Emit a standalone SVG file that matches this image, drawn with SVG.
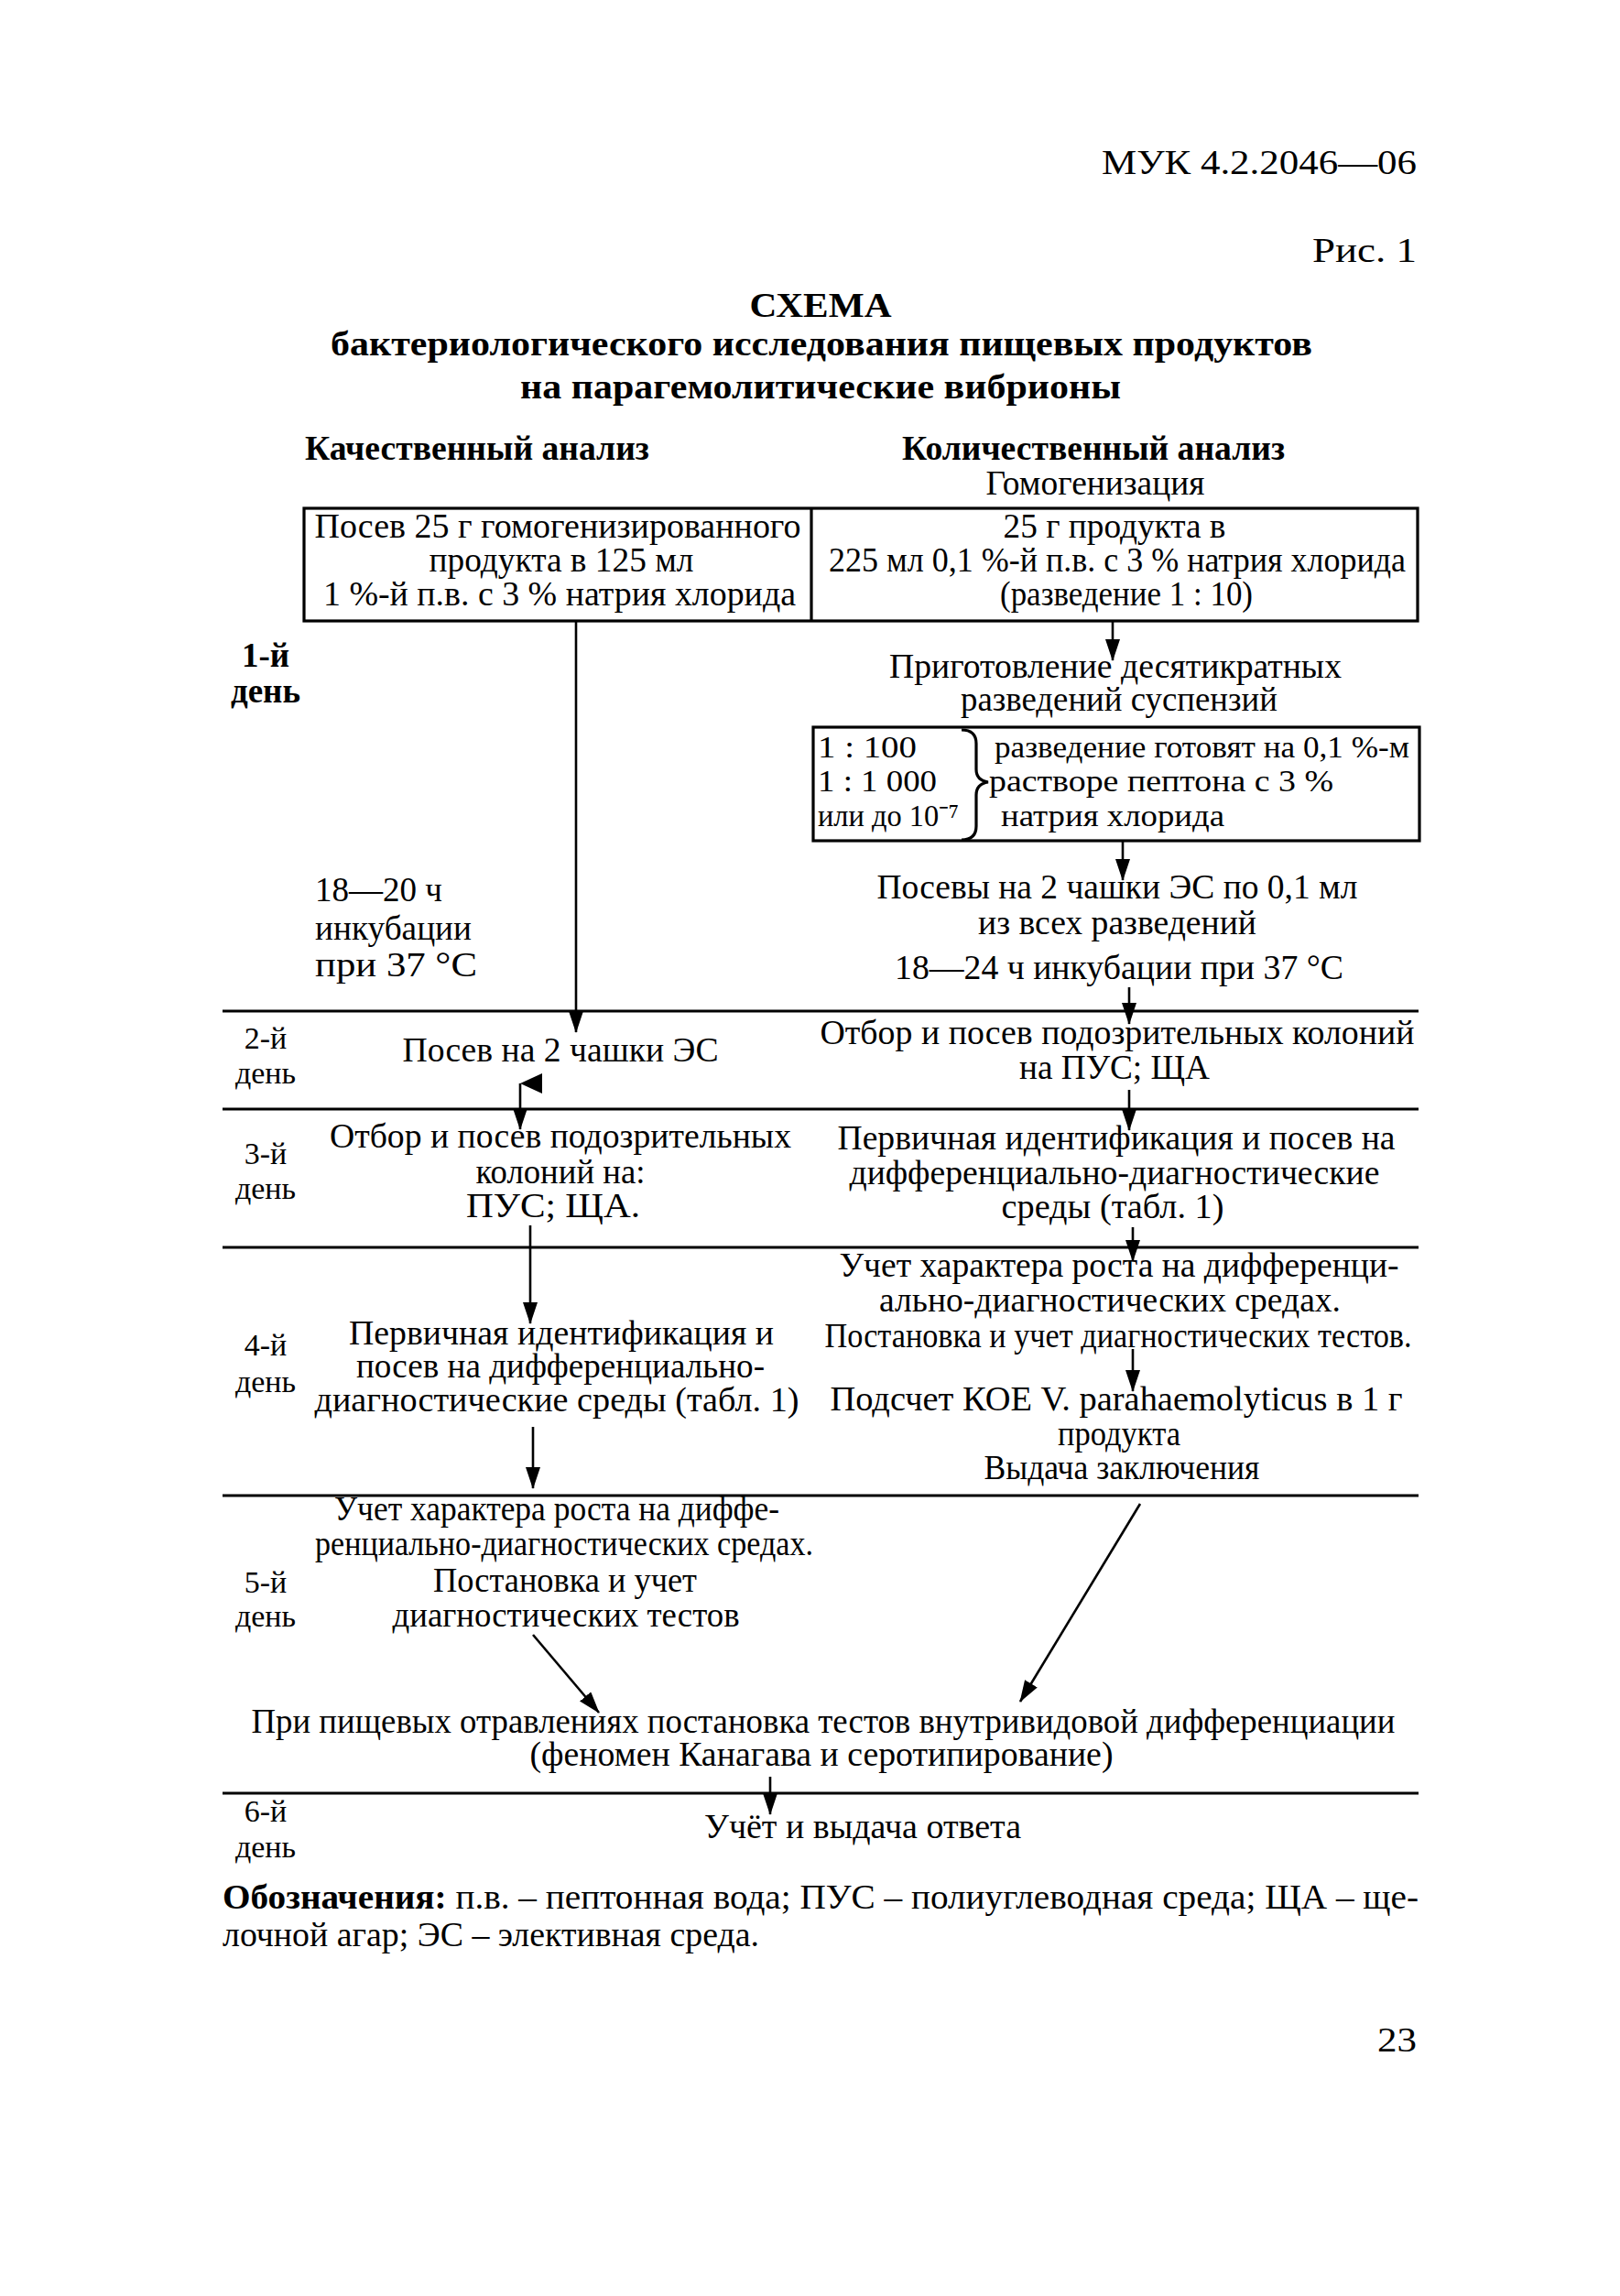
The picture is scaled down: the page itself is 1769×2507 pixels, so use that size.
<svg xmlns="http://www.w3.org/2000/svg" width="1769" height="2507" viewBox="0 0 1769 2507">
<style>
text{font-family:"Liberation Serif","Times New Roman",serif;fill:#000;font-size:37px}
.b{font-weight:bold}
.m{text-anchor:middle}
.e{text-anchor:end}
.d{font-size:34px}
.s{font-size:34px}
.ln{stroke:#000;stroke-width:3.2;fill:none}
.ar{stroke:#000;stroke-width:2.6;fill:none;marker-end:url(#ah)}
</style>
<defs>
<marker id="ah" markerWidth="24" markerHeight="16" refX="23" refY="8" orient="auto" markerUnits="userSpaceOnUse">
<path d="M0,0 L24,8 L0,16 Z" fill="#000"/>
</marker>
</defs>
<rect width="1769" height="2507" fill="#fff"/>

<g id="header">
<text x="1547" y="190" class="e" font-size="54" textLength="344" lengthAdjust="spacingAndGlyphs">МУК 4.2.2046—06</text>
<text x="1547" y="286" class="e" font-size="52" textLength="114" lengthAdjust="spacingAndGlyphs">Рис. 1</text>
<text x="896" y="346" class="m b" font-size="52" textLength="155" lengthAdjust="spacingAndGlyphs">СХЕМА</text>
<text x="897" y="388" class="m b" font-size="44" textLength="1072" lengthAdjust="spacingAndGlyphs">бактериологического исследования пищевых продуктов</text>
<text x="896" y="435" class="m b" font-size="44" textLength="656" lengthAdjust="spacingAndGlyphs">на парагемолитические вибрионы</text>
<text x="333" y="502" class="b" font-size="42" textLength="376" lengthAdjust="spacingAndGlyphs">Качественный анализ</text>
<text x="985" y="502" class="b" font-size="42" textLength="418" lengthAdjust="spacingAndGlyphs">Количественный анализ</text>
<text x="1196" y="540" class="m" textLength="239" lengthAdjust="spacingAndGlyphs">Гомогенизация</text>
</g>

<g id="days">
<text x="290" y="728" class="m b" font-size="33">1-й</text>
<text x="290" y="767" class="m b" font-size="33">день</text>
<text x="290" y="1145" class="m d">2-й</text>
<text x="290" y="1183" class="m d">день</text>
<text x="290" y="1271" class="m d">3-й</text>
<text x="290" y="1309" class="m d">день</text>
<text x="290" y="1480" class="m d">4-й</text>
<text x="290" y="1520" class="m d">день</text>
<text x="290" y="1739" class="m d">5-й</text>
<text x="290" y="1776" class="m d">день</text>
<text x="290" y="1989" class="m d">6-й</text>
<text x="290" y="2028" class="m d">день</text>
</g>

<g id="separators">
<line class="ln" x1="243" y1="1104" x2="1549" y2="1104"/>
<line class="ln" x1="243" y1="1211" x2="1549" y2="1211"/>
<line class="ln" x1="243" y1="1362" x2="1549" y2="1362"/>
<line class="ln" x1="243" y1="1633" x2="1549" y2="1633"/>
<line class="ln" x1="243" y1="1958" x2="1549" y2="1958"/>
</g>

<g id="n-start">
<rect class="ln" x="332" y="555" width="1216" height="123"/>
<line class="ln" x1="886" y1="555" x2="886" y2="678"/>
<text x="609" y="587" class="m" textLength="531" lengthAdjust="spacingAndGlyphs">Посев 25 г гомогенизированного</text>
<text x="613" y="624" class="m" textLength="289" lengthAdjust="spacingAndGlyphs">продукта в 125 мл</text>
<text x="611" y="661" class="m" textLength="516" lengthAdjust="spacingAndGlyphs">1 %-й п.в. с 3 % натрия хлорида</text>
<text x="1217" y="587" class="m" textLength="243" lengthAdjust="spacingAndGlyphs">25 г продукта в</text>
<text x="1220" y="624" class="m" textLength="630" lengthAdjust="spacingAndGlyphs">225 мл 0,1 %-й п.в. с 3 % натрия хлорида</text>
<text x="1230" y="661" class="m" textLength="276" lengthAdjust="spacingAndGlyphs">(разведение 1 : 10)</text>
</g>

<g id="n-prep">
<text x="1218" y="740" class="m" textLength="494" lengthAdjust="spacingAndGlyphs">Приготовление десятикратных</text>
<text x="1222" y="776" class="m" textLength="346" lengthAdjust="spacingAndGlyphs">разведений суспензий</text>
</g>

<g id="n-dilutions">
<rect class="ln" x="888" y="794" width="662" height="124"/>
<text x="893" y="827" class="s" textLength="108" lengthAdjust="spacingAndGlyphs">1 : 100</text>
<text x="893" y="864" class="s" textLength="130" lengthAdjust="spacingAndGlyphs">1 : 1 000</text>
<text x="893" y="902" class="s" textLength="154" lengthAdjust="spacingAndGlyphs">или до 10⁻⁷</text>
<path class="ln" stroke-width="2.6" d="M1050,797 Q1066,797 1066,812 L1066,840 Q1066,852 1079,854 Q1066,856 1066,868 L1066,902 Q1066,917 1050,917"/>
<text x="1086" y="827" class="s" textLength="453" lengthAdjust="spacingAndGlyphs">разведение готовят на 0,1 %-м</text>
<text x="1080" y="864" class="s" textLength="376" lengthAdjust="spacingAndGlyphs">растворе пептона с 3 %</text>
<text x="1093" y="902" class="s" textLength="244" lengthAdjust="spacingAndGlyphs">натрия хлорида</text>
</g>

<g id="n-plating">
<text x="1220" y="981" class="m" textLength="525" lengthAdjust="spacingAndGlyphs">Посевы на 2 чашки ЭС по 0,1 мл</text>
<text x="1220" y="1020" class="m" textLength="304" lengthAdjust="spacingAndGlyphs">из всех разведений</text>
<text x="1222" y="1069" class="m" textLength="490" lengthAdjust="spacingAndGlyphs">18—24 ч инкубации при 37 °С</text>
</g>

<g id="n-incub-left">
<text x="344" y="984" textLength="139" lengthAdjust="spacingAndGlyphs">18—20 ч</text>
<text x="344" y="1026" textLength="171" lengthAdjust="spacingAndGlyphs">инкубации</text>
<text x="344" y="1066" textLength="177" lengthAdjust="spacingAndGlyphs">при 37 °С</text>
</g>

<g id="n-day2-left">
<text x="612" y="1159" class="m" textLength="345" lengthAdjust="spacingAndGlyphs">Посев на 2 чашки ЭС</text>
</g>
<g id="n-day2-right">
<text x="1220" y="1140" class="m" textLength="649" lengthAdjust="spacingAndGlyphs">Отбор и посев подозрительных колоний</text>
<text x="1217" y="1178" class="m" textLength="208" lengthAdjust="spacingAndGlyphs">на ПУС; ЩА</text>
</g>

<g id="n-day3-left">
<text x="612" y="1253" class="m" textLength="504" lengthAdjust="spacingAndGlyphs">Отбор и посев подозрительных</text>
<text x="612" y="1292" class="m" textLength="185" lengthAdjust="spacingAndGlyphs">колоний на:</text>
<text x="604" y="1329" class="m" textLength="190" lengthAdjust="spacingAndGlyphs">ПУС; ЩА.</text>
</g>
<g id="n-day3-right">
<text x="1219" y="1255" class="m" textLength="609" lengthAdjust="spacingAndGlyphs">Первичная идентификация и посев на</text>
<text x="1217" y="1293" class="m" textLength="579" lengthAdjust="spacingAndGlyphs">дифференциально-диагностические</text>
<text x="1215" y="1330" class="m" textLength="243" lengthAdjust="spacingAndGlyphs">среды (табл. 1)</text>
</g>

<g id="n-day4-left">
<text x="613" y="1468" class="m" textLength="464" lengthAdjust="spacingAndGlyphs">Первичная идентификация и</text>
<text x="612" y="1504" class="m" textLength="446" lengthAdjust="spacingAndGlyphs">посев на дифференциально-</text>
<text x="608" y="1541" class="m" textLength="529" lengthAdjust="spacingAndGlyphs">диагностические среды (табл. 1)</text>
</g>
<g id="n-day4-right">
<text x="1222" y="1394" class="m" textLength="611" lengthAdjust="spacingAndGlyphs">Учет характера роста на дифференци-</text>
<text x="1212" y="1432" class="m" textLength="504" lengthAdjust="spacingAndGlyphs">ально-диагностических средах.</text>
<text x="1221" y="1471" class="m" textLength="641" lengthAdjust="spacingAndGlyphs">Постановка и учет диагностических тестов.</text>
</g>
<g id="n-count">
<text x="1219" y="1540" class="m" textLength="625" lengthAdjust="spacingAndGlyphs">Подсчет КОЕ V. parahaemolyticus в 1 г</text>
<text x="1222" y="1578" class="m" textLength="134" lengthAdjust="spacingAndGlyphs">продукта</text>
<text x="1225" y="1615" class="m" textLength="301" lengthAdjust="spacingAndGlyphs">Выдача заключения</text>
</g>

<g id="n-day5-left">
<text x="608" y="1660" class="m" textLength="486" lengthAdjust="spacingAndGlyphs">Учет характера роста на диффе-</text>
<text x="616" y="1698" class="m" textLength="544" lengthAdjust="spacingAndGlyphs">ренциально-диагностических средах.</text>
<text x="617" y="1738" class="m" textLength="288" lengthAdjust="spacingAndGlyphs">Постановка и учет</text>
<text x="618" y="1776" class="m" textLength="379" lengthAdjust="spacingAndGlyphs">диагностических тестов</text>
</g>

<g id="n-poisoning">
<text x="899" y="1892" class="m" textLength="1249" lengthAdjust="spacingAndGlyphs">При пищевых отравлениях постановка тестов внутривидовой дифференциации</text>
<text x="897" y="1928" class="m" textLength="637" lengthAdjust="spacingAndGlyphs">(феномен Канагава и серотипирование)</text>
</g>

<g id="n-answer">
<text x="942" y="2007" class="m" textLength="346" lengthAdjust="spacingAndGlyphs">Учёт и выдача ответа</text>
</g>

<g id="legend">
<text x="243" y="2084" textLength="1306" lengthAdjust="spacingAndGlyphs"><tspan class="b">Обозначения:</tspan> п.в. – пептонная вода; ПУС – полиуглеводная среда; ЩА – ще-</text>
<text x="243" y="2125" textLength="586" lengthAdjust="spacingAndGlyphs">лочной агар; ЭС – элективная среда.</text>
<text x="1547" y="2240" class="e" font-size="52" textLength="43" lengthAdjust="spacingAndGlyphs">23</text>
</g>

<g id="connectors">
<line class="ar" x1="629" y1="678" x2="629" y2="1127"/>
<line class="ar" x1="1215" y1="678" x2="1215" y2="721"/>
<line class="ar" x1="1226" y1="918" x2="1226" y2="961"/>
<line class="ar" x1="1233" y1="1078" x2="1233" y2="1118"/>
<line class="ar" x1="568" y1="1183" x2="568" y2="1233"/>
<path d="M568,1183 L592,1172 L592,1194 Z" fill="#000"/>
<line class="ar" x1="1233" y1="1190" x2="1233" y2="1234"/>
<line class="ar" x1="579" y1="1338" x2="579" y2="1445"/>
<line class="ar" x1="1237" y1="1340" x2="1237" y2="1377"/>
<line class="ar" x1="1237" y1="1473" x2="1237" y2="1519"/>
<line class="ar" x1="582" y1="1558" x2="582" y2="1625"/>
<line class="ar" x1="582" y1="1785" x2="654" y2="1870"/>
<line class="ar" x1="1245" y1="1642" x2="1114" y2="1858"/>
<line class="ar" x1="841" y1="1940" x2="841" y2="1981"/>
</g>
</svg>
